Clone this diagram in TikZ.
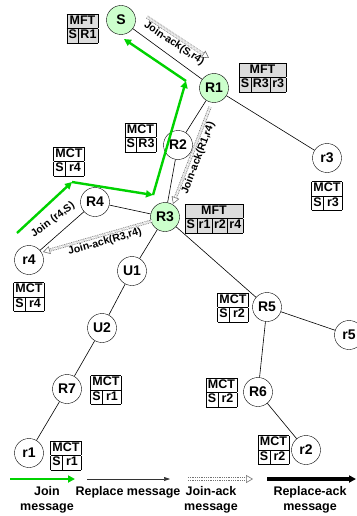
\documentclass[tikz,border=0pt]{standalone}
\usepackage{fontspec}
\setmainfont{Liberation Sans}
\usetikzlibrary{arrows.meta}
\definecolor{nodegreen}{RGB}{204,255,204}
\definecolor{joingreen}{RGB}{0,210,0}
\definecolor{tblgray}{RGB}{220,220,220}
\setlength{\tabcolsep}{1.8pt}
\begin{document}
\begin{tikzpicture}[
	x=1pt, y=-1pt,
	font=\bfseries
]
\tikzset{
    rnode/.style = {circle, draw=black, fill=white, minimum size=29pt, inner sep=0pt, font=\fontsize{14}{16}\selectfont\bfseries},
    gnode/.style = {rnode, fill=nodegreen},
    mft/.style = {fill=tblgray, inner sep=0pt, font=\fontsize{12.5}{14}\selectfont\bfseries},
    mct/.style = {fill=white, inner sep=0pt, font=\fontsize{12.5}{14}\selectfont\bfseries},
    edgen/.style = {-, line width=0.6pt},
    edgej/.style = {-{Triangle[length=7pt,width=7pt]}, line width=2.4pt, joingreen},
    edgea/.style = {-{Triangle[open,length=7pt,width=8pt,line width=0.6pt,fill=white]}, draw=black!55, dash pattern=on 0.9pt off 0.9pt, double=white, double distance=1.8pt, line width=0.7pt},
    edger/.style = {-{Triangle[length=6pt,width=4pt]}, line width=0.6pt, black!80},
    edgera/.style = {-{Triangle[length=7pt,width=7pt]}, line width=3.5pt, black},
    lbl/.style = {font=\fontsize{10.5}{12}\selectfont\bfseries, inner sep=1pt},
    legend/.style = {align=center, font=\fontsize{12.5}{15}\selectfont\bfseries},
}
\useasboundingbox (0,0) rectangle (356,516);
% routers and receivers
\node[gnode] at (121, 20) (S) {S};
\node[gnode] at (214, 88) (R1) {R1};
\node[rnode] at (178,145) (R2) {R2};
\node[rnode] at (327,158) (r3) {r3};
\node[rnode] at ( 95,202) (R4) {R4};
\node[gnode] at (165,217) (R3) {R3};
\node[rnode] at ( 29,260) (r4) {r4};
\node[rnode] at (132,271) (U1) {U1};
\node[rnode] at (102,328) (U2) {U2};
\node[rnode] at ( 67,389) (R7) {R7};
\node[rnode] at ( 29,453) (r1) {r1};
\node[rnode] at (267,307) (R5) {R5};
\node[rnode] at (349,335) (r5) {r5};
\node[rnode] at (258,392) (R6) {R6};
\node[rnode] at (306,450) (r2) {r2};
%
\draw[edgen] (S) -- (R1);
\draw[edgen] (R1) -- (R2);
\draw[edgen] (R2) -- (R3);
\draw[edgen] (R1) -- (r3);
\draw[edgen] (R4) -- (R3);
\draw[edgen] (R4) -- (r4);
\draw[edgen] (R3) -- (U1);
\draw[edgen] (U1) -- (U2);
\draw[edgen] (U2) -- (R7);
\draw[edgen] (R7) -- (r1);
\draw[edgen] (R3) -- (R5);
\draw[edgen] (R5) -- (r5);
\draw[edgen] (R5) -- (R6);
\draw[edgen] (R6) -- (r2);
% forwarding and control tables
\node[mft] at ( 82.5, 28.5) (tS) {\begin{tabular}{|c|c|}\hline\multicolumn{2}{|c|}{MFT}\\\hline S&R1\\\hline\end{tabular}};
\node[mft] at (262.5, 77.5) (tR1) {\begin{tabular}{|c|c|c|}\hline\multicolumn{3}{|c|}{MFT}\\\hline S&R3&r3\\\hline\end{tabular}};
\node[mct] at (140.5,137.5) (tR2) {\begin{tabular}{|c|c|}\hline\multicolumn{2}{|c|}{MCT}\\\hline S&R3\\\hline\end{tabular}};
\node[mct] at ( 69,161.5) (tR4) {\begin{tabular}{|c|c|}\hline\multicolumn{2}{|c|}{MCT}\\\hline S&r4\\\hline\end{tabular}};
\node[mft] at (214,218.5) (tR3) {\begin{tabular}{|c|c|c|c|}\hline\multicolumn{4}{|c|}{MFT}\\\hline S&r1&r2&r4\\\hline\end{tabular}};
\node[mct] at (327,196) (tr3) {\begin{tabular}{|c|c|}\hline\multicolumn{2}{|c|}{MCT}\\\hline S&r3\\\hline\end{tabular}};
\node[mct] at ( 29,297) (tr4) {\begin{tabular}{|c|c|}\hline\multicolumn{2}{|c|}{MCT}\\\hline S&r4\\\hline\end{tabular}};
\node[mct] at (106,390) (tR7) {\begin{tabular}{|c|c|}\hline\multicolumn{2}{|c|}{MCT}\\\hline S&r1\\\hline\end{tabular}};
\node[mct] at ( 66,455.5) (tr1) {\begin{tabular}{|c|c|}\hline\multicolumn{2}{|c|}{MCT}\\\hline S&r1\\\hline\end{tabular}};
\node[mct] at (233,307.5) (tR5) {\begin{tabular}{|c|c|}\hline\multicolumn{2}{|c|}{MCT}\\\hline S&r2\\\hline\end{tabular}};
\node[mct] at (221.5,392.5) (tR6) {\begin{tabular}{|c|c|}\hline\multicolumn{2}{|c|}{MCT}\\\hline S&r2\\\hline\end{tabular}};
\node[mct] at (273.5,450) (tr2) {\begin{tabular}{|c|c|}\hline\multicolumn{2}{|c|}{MCT}\\\hline S&r2\\\hline\end{tabular}};
% join path r4 -> S
\coordinate (j1) at ( 17,233);
\coordinate (j2) at ( 72,182);
\coordinate (j3) at (153,195);
\coordinate (j4) at (186, 81);
\coordinate (j5) at (124, 39);
\draw[edgej] (j1) -- (j2);
\draw[edgej] (j2) -- (j3);
\draw[edgej] (j3) -- (j4);
\draw[edgej] (j4) -- (j5);
\node[lbl, rotate=37] at (53,220) (lj) {Join (r4,S)};
% join-ack path S -> r4
\coordinate (a1) at (147, 17);
\coordinate (a2) at (209, 58);
\coordinate (a3) at (210,107);
\coordinate (a4) at (173,204);
\coordinate (a5) at (152,221);
\coordinate (a6) at ( 43,252);
\draw[edgea] (a1) -- (a2) node[lbl, midway, sloped, below=1pt] {Join-ack(S,r4)};
\draw[edgea] (a3) -- (a4) node[lbl, midway, sloped, below=1pt] {Join-ack(R1,r4)};
\draw[edgea] (a5) -- (a6) node[lbl, pos=0.45, sloped, below=1pt] {Join-ack(R3,r4)};
% legend
\coordinate (l1) at ( 10,479);
\coordinate (l2) at ( 75,479);
\coordinate (l3) at ( 87,479);
\coordinate (l4) at (170,479);
\coordinate (l5) at (188,479);
\coordinate (l6) at (253,479);
\coordinate (l7) at (267,479);
\coordinate (l8) at (356,479);
\draw[edgej] (l1) -- (l2);
\draw[edger] (l3) -- (l4);
\draw[edgea] (l5) -- (l6);
\draw[edgera] (l7) -- (l8);
\node[legend] at ( 47,500) (lgj) {Join\\message};
\node[legend] at (128,492) (lgr) {Replace message};
\node[legend] at (211,500) (lga) {Join-ack\\message};
\node[legend] at (310,500) (lgra) {Replace-ack\\message};
\end{tikzpicture}
\end{document}
